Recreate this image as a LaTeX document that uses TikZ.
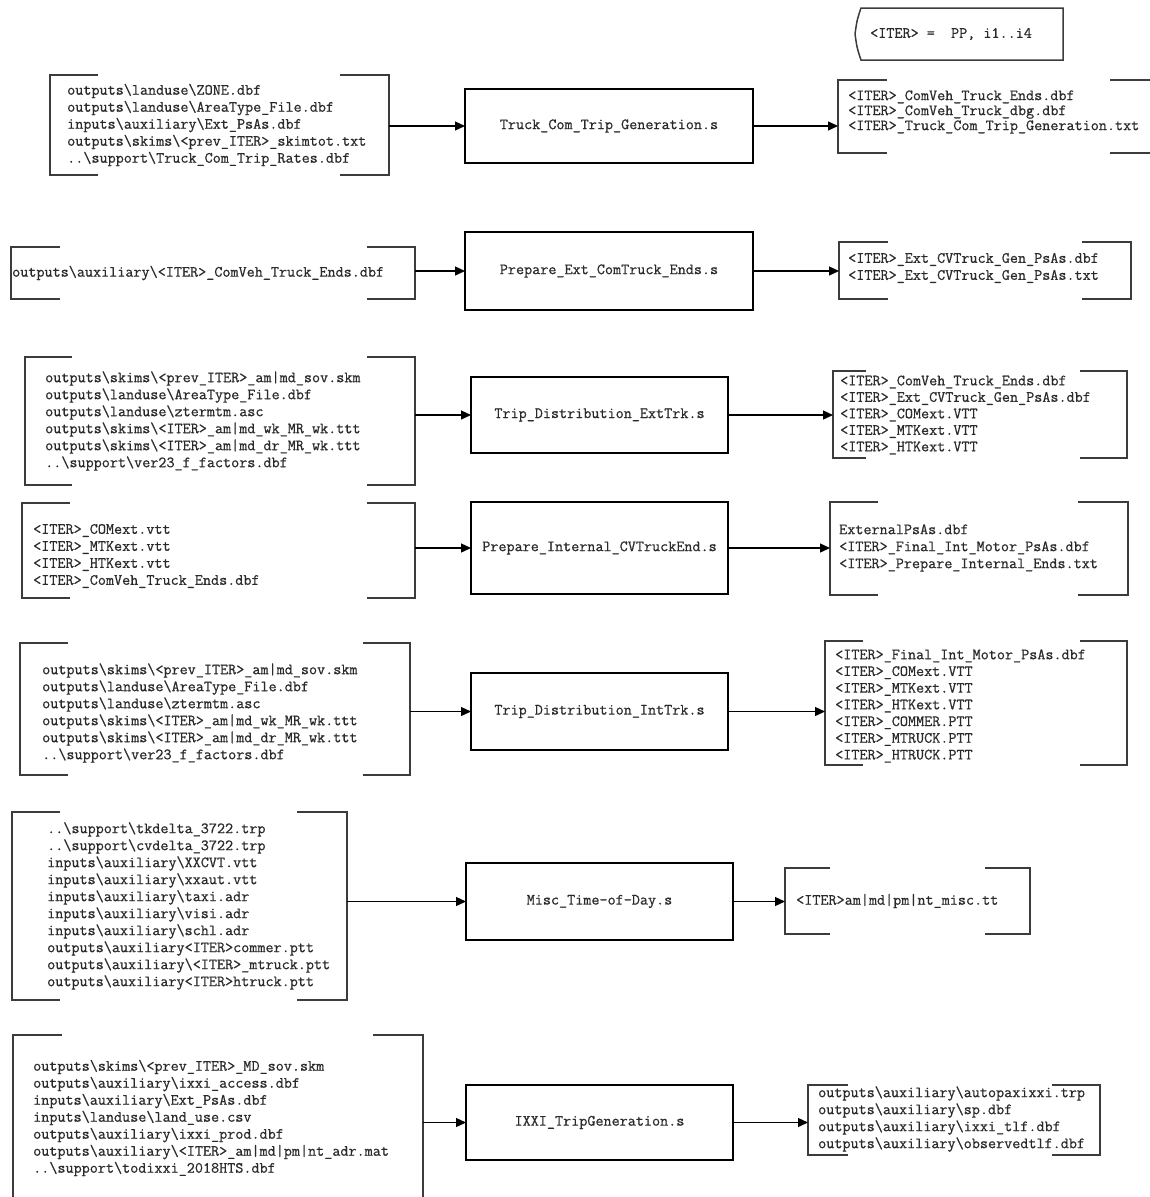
\documentclass[tikz,border=0pt]{standalone}
\usepackage{fontspec}
\newfontfamily\filemono{Latin Modern Mono}[FakeBold=0.6]
\usetikzlibrary{arrows.meta}
\newcommand{\bsl}{\textbackslash}
\definecolor{inkgray}{HTML}{2A2A2A}
\definecolor{framegray}{HTML}{3C3C3C}
% left and right square brackets around a frame node: #2, #3 = arm lengths
\newcommand{\ioframe}[3]{%
  \draw[bracket] ([xshift=#2bp]#1.north west) -- (#1.north west) -- (#1.south west) -- ([xshift=#2bp]#1.south west);
  \draw[bracket] ([xshift=-#3bp]#1.north east) -- (#1.north east) -- (#1.south east) -- ([xshift=-#3bp]#1.south east);}
\begin{document}
\begin{tikzpicture}[x=1bp,y=-1bp,
  frame/.style={anchor=north west, inner sep=0pt, outer sep=0pt},
  bracket/.style={draw=framegray, line width=1.8bp},
  listing/.style={anchor=west, align=left, inner sep=0pt, text=inkgray,
    font=\filemono\fontsize{15.7bp}{17bp}\selectfont},
  process/.style={anchor=north west, draw=black, line width=1.3bp, inner sep=0pt, outer sep=0pt,
    text=inkgray, font=\filemono\fontsize{15.7bp}{17bp}\selectfont},
  flow/.style={draw=black, line width=1.3bp, -{Triangle[length=10bp,width=9bp]}}]
\useasboundingbox (0,0) rectangle (1150,1197);
\clip (0,0) rectangle (1150,1197);
\fill[white] (0,0) rectangle (1150,1197);

% iteration note
\node[listing] (iter) at (870,34) {<ITER> =~~PP, i1..i4};
\draw[framegray, line width=1.5bp] (1063,8) -- (861,8) .. controls (857,20) .. (855,34) .. controls (857,48) .. (861,60) -- (1063,60) -- cycle;

% ---------- Truck_Com_Trip_Generation ----------
\node[frame, minimum width=339bp, minimum height=100bp] (in1) at (50,75) {};
\ioframe{in1}{48}{49}
\node[listing] (in1t) at (67,125) {outputs\bsl landuse\bsl ZONE.dbf\\outputs\bsl landuse\bsl AreaType\_File.dbf\\inputs\bsl auxiliary\bsl Ext\_PsAs.dbf\\outputs\bsl skims\bsl <prev\_ITER>\_skimtot.txt\\..\bsl support\bsl Truck\_Com\_Trip\_Rates.dbf};
\node[process, minimum width=288bp, minimum height=74bp] (p1) at (465,89) {Truck\_Com\_Trip\_Generation.s};
\node[frame, minimum width=320bp, minimum height=73bp] (out1) at (838,80) {};
\ioframe{out1}{49}{48}
\node[listing, font=\filemono\fontsize{15.7bp}{15bp}\selectfont] (out1t) at (848,112) {<ITER>\_ComVeh\_Truck\_Ends.dbf\\<ITER>\_ComVeh\_Truck\_dbg.dbf\\<ITER>\_Truck\_Com\_Trip\_Generation.txt};
\draw[flow] (in1.east |- p1.west) -- (p1.west);
\draw[flow] (p1.east) -- (p1.east -| out1.west);

% ---------- Prepare_Ext_ComTruck_Ends ----------
\node[frame, minimum width=404bp, minimum height=52bp] (in2) at (11,247) {};
\ioframe{in2}{49}{48}
\node[listing] (in2t) at (12,273) {outputs\bsl auxiliary\bsl <ITER>\_ComVeh\_Truck\_Ends.dbf};
\node[process, minimum width=288bp, minimum height=78bp] (p2) at (465,232) {Prepare\_Ext\_ComTruck\_Ends.s};
\node[frame, minimum width=292bp, minimum height=57bp] (out2) at (839,242) {};
\ioframe{out2}{49}{49}
\node[listing] (out2t) at (848,268) {<ITER>\_Ext\_CVTruck\_Gen\_PsAs.dbf\\<ITER>\_Ext\_CVTruck\_Gen\_PsAs.txt};
\draw[flow] (in2.east |- p2.west) -- (p2.west);
\draw[flow] (p2.east) -- (p2.east -| out2.west);

% ---------- Trip_Distribution_ExtTrk ----------
\node[frame, minimum width=390bp, minimum height=128bp] (in3) at (25,357) {};
\ioframe{in3}{47}{48}
\node[listing] (in3t) at (45,421) {outputs\bsl skims\bsl <prev\_ITER>\_am|md\_sov.skm\\outputs\bsl landuse\bsl AreaType\_File.dbf\\outputs\bsl landuse\bsl ztermtm.asc\\outputs\bsl skims\bsl <ITER>\_am|md\_wk\_MR\_wk.ttt\\outputs\bsl skims\bsl <ITER>\_am|md\_dr\_MR\_wk.ttt\\..\bsl support\bsl ver23\_f\_factors.dbf};
\node[process, minimum width=257bp, minimum height=76bp] (p3) at (471,377) {Trip\_Distribution\_ExtTrk.s};
\node[frame, minimum width=294bp, minimum height=87bp] (out3) at (833,371) {};
\ioframe{out3}{33}{47}
\node[listing, font=\filemono\fontsize{15.7bp}{16.5bp}\selectfont] (out3t) at (840,415) {<ITER>\_ComVeh\_Truck\_Ends.dbf\\<ITER>\_Ext\_CVTruck\_Gen\_PsAs.dbf\\<ITER>\_COMext.VTT\\<ITER>\_MTKext.VTT\\<ITER>\_HTKext.VTT};
\draw[flow] (in3.east |- p3.west) -- (p3.west);
\draw[flow] (p3.east) -- (p3.east -| out3.west);

% ---------- Prepare_Internal_CVTruckEnd ----------
\node[frame, minimum width=393bp, minimum height=95bp] (in4) at (22,503) {};
\ioframe{in4}{48}{48}
\node[listing] (in4t) at (33,556) {<ITER>\_COMext.vtt\\<ITER>\_MTKext.vtt\\<ITER>\_HTKext.vtt\\<ITER>\_ComVeh\_Truck\_Ends.dbf};
\node[process, minimum width=257bp, minimum height=92bp] (p4) at (471,502) {Prepare\_Internal\_CVTruckEnd.s};
\node[frame, minimum width=298bp, minimum height=93bp] (out4) at (830,502) {};
\ioframe{out4}{48}{50}
\node[listing] (out4t) at (839,548) {ExternalPsAs.dbf\\<ITER>\_Final\_Int\_Motor\_PsAs.dbf\\<ITER>\_Prepare\_Internal\_Ends.txt};
\draw[flow] (in4.east |- p4.west) -- (p4.west);
\draw[flow] (p4.east) -- (p4.east -| out4.west);

% ---------- Trip_Distribution_IntTrk ----------
\node[frame, minimum width=390bp, minimum height=132bp] (in5) at (20,643) {};
\ioframe{in5}{48}{47}
\node[listing] (in5t) at (42,713) {outputs\bsl skims\bsl <prev\_ITER>\_am|md\_sov.skm\\outputs\bsl landuse\bsl AreaType\_File.dbf\\outputs\bsl landuse\bsl ztermtm.asc\\outputs\bsl skims\bsl <ITER>\_am|md\_wk\_MR\_wk.ttt\\outputs\bsl skims\bsl <ITER>\_am|md\_dr\_MR\_wk.ttt\\..\bsl support\bsl ver23\_f\_factors.dbf};
\node[process, minimum width=257bp, minimum height=77bp] (p5) at (471,673) {Trip\_Distribution\_IntTrk.s};
\node[frame, minimum width=302bp, minimum height=124bp] (out5) at (825,641) {};
\ioframe{out5}{38}{47}
\node[listing, font=\filemono\fontsize{15.7bp}{16.7bp}\selectfont] (out5t) at (835,706) {<ITER>\_Final\_Int\_Motor\_PsAs.dbf\\<ITER>\_COMext.VTT\\<ITER>\_MTKext.VTT\\<ITER>\_HTKext.VTT\\<ITER>\_COMMER.PTT\\<ITER>\_MTRUCK.PTT\\<ITER>\_HTRUCK.PTT};
\draw[flow] (in5.east |- p5.west) -- (p5.west);
\draw[flow] (p5.east) -- (p5.east -| out5.west);

% ---------- Misc_Time-of-Day ----------
\node[frame, minimum width=335bp, minimum height=188bp] (in6) at (12,812) {};
\ioframe{in6}{48}{50}
\node[listing] (in6t) at (47,906) {..\bsl support\bsl tkdelta\_3722.trp\\..\bsl support\bsl cvdelta\_3722.trp\\inputs\bsl auxiliary\bsl XXCVT.vtt\\inputs\bsl auxiliary\bsl xxaut.vtt\\inputs\bsl auxiliary\bsl taxi.adr\\inputs\bsl auxiliary\bsl visi.adr\\inputs\bsl auxiliary\bsl schl.adr\\outputs\bsl auxiliary<ITER>commer.ptt\\outputs\bsl auxiliary\bsl <ITER>\_mtruck.ptt\\outputs\bsl auxiliary<ITER>htruck.ptt};
\node[process, minimum width=267bp, minimum height=77bp] (p6) at (466,863) {Misc\_Time-of-Day.s};
\node[frame, minimum width=245bp, minimum height=66bp] (out6) at (785,868) {};
\ioframe{out6}{45}{45}
\node[listing] (out6t) at (796,901) {<ITER>am|md|pm|nt\_misc.tt};
\draw[flow] (in6.east |- p6.west) -- (p6.west);
\draw[flow] (p6.east) -- (p6.east -| out6.west);

% ---------- IXXI_TripGeneration ----------
\node[frame, minimum width=410bp, minimum height=180bp] (in7) at (13,1035) {};
\ioframe{in7}{49}{50}
\node[listing] (in7t) at (33,1118) {outputs\bsl skims\bsl <prev\_ITER>\_MD\_sov.skm\\outputs\bsl auxiliary\bsl ixxi\_access.dbf\\inputs\bsl auxiliary\bsl Ext\_PsAs.dbf\\inputs\bsl landuse\bsl land\_use.csv\\outputs\bsl auxiliary\bsl ixxi\_prod.dbf\\outputs\bsl auxiliary\bsl <ITER>\_am|md|pm|nt\_adr.mat\\..\bsl support\bsl todixxi\_2018HTS.dbf};
\node[process, minimum width=267bp, minimum height=75bp] (p7) at (466,1085) {IXXI\_TripGeneration.s};
\node[frame, minimum width=292bp, minimum height=70bp] (out7) at (808,1085) {};
\ioframe{out7}{40}{48}
\node[listing] (out7t) at (818,1119) {outputs\bsl auxiliary\bsl autopaxixxi.trp\\outputs\bsl auxiliary\bsl sp.dbf\\outputs\bsl auxiliary\bsl ixxi\_tlf.dbf\\outputs\bsl auxiliary\bsl observedtlf.dbf};
\draw[flow] (in7.east |- p7.west) -- (p7.west);
\draw[flow] (p7.east) -- (p7.east -| out7.west);
\end{tikzpicture}
\end{document}
